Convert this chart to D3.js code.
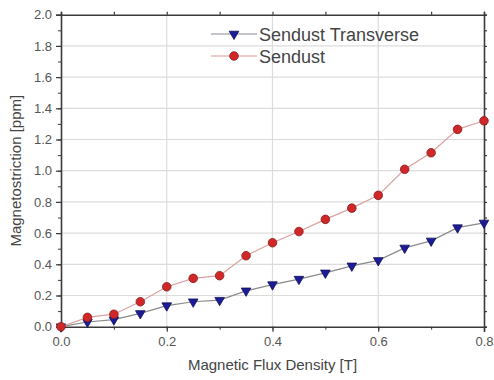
<!DOCTYPE html>
<html>
<head>
<meta charset="utf-8">
<script src="https://cdn.jsdelivr.net/npm/d3@7"></script>
<style>
  body { margin: 0; background: #fff; }
  svg { display: block; font-family: "Liberation Sans", Arial, sans-serif; }
</style>
</head>
<body>
<svg id="chart" width="494" height="380"></svg>
<script>
// Magnetostriction vs. flux density
const fluxDensity = [0, 0.05, 0.1, 0.15, 0.2, 0.25, 0.3, 0.35, 0.4, 0.45, 0.5, 0.55, 0.6, 0.65, 0.7, 0.75, 0.8];
const sendust = [0, 0.06, 0.08, 0.16, 0.256, 0.31, 0.327, 0.455, 0.538, 0.61, 0.688, 0.76, 0.842, 1.009, 1.115, 1.265, 1.32];
const sendustTransverse = [0, 0.03, 0.045, 0.085, 0.135, 0.16, 0.17, 0.23, 0.27, 0.305, 0.345, 0.39, 0.425, 0.505, 0.55, 0.635, 0.665];
const xTicks = [0, 0.2, 0.4, 0.6, 0.8];
const yTicks = [0, 0.2, 0.4, 0.6, 0.8, 1.0, 1.2, 1.4, 1.6, 1.8, 2.0];
const seriesNames = ["Sendust Transverse", "Sendust"];

const svg = d3.select("#chart");
const m = { left: 61, right: 484, top: 14.7, bottom: 326.7 };

const x = d3.scaleLinear().domain([0, 0.8]).range([m.left, m.right]);
const y = d3.scaleLinear().domain([0, 2.0]).range([m.bottom, m.top]);

const axisColor = "#3a3a3a";
const textColor = "#555";

// grid
const grid = svg.append("g");
grid.selectAll("line.gx").data(xTicks.slice(1, -1)).join("line")
  .attr("x1", d => x(d)).attr("x2", d => x(d))
  .attr("y1", m.top).attr("y2", m.bottom)
  .attr("stroke", "#dcdcdc").attr("stroke-width", 1.2);
grid.selectAll("line.gy").data(yTicks.slice(1, -1)).join("line")
  .attr("y1", d => y(d)).attr("y2", d => y(d))
  .attr("x1", m.left).attr("x2", m.right)
  .attr("stroke", "#dcdcdc").attr("stroke-width", 1.2);

// axes (ticks on all four sides, outward)
const xMinor = d3.range(0, 0.8001, 0.1);
const yMinor = d3.range(0, 2.0001, 0.1);

function styleAxis(g) {
  g.selectAll(".domain").attr("stroke", axisColor).attr("stroke-width", 1.6);
  g.selectAll(".tick line").attr("stroke", axisColor).attr("stroke-width", 1.2);
  g.selectAll(".tick text").attr("fill", textColor).attr("font-size", 13);
}

const bottomAxis = svg.append("g").attr("transform", `translate(0,${m.bottom})`)
  .call(d3.axisBottom(x).tickValues(xTicks).tickFormat(d3.format(".1f")).tickSizeOuter(0).tickSize(5).tickPadding(5));
styleAxis(bottomAxis);
svg.append("g").attr("transform", `translate(0,${m.bottom})`)
  .call(d3.axisBottom(x).tickValues(xMinor).tickFormat("").tickSizeOuter(0).tickSize(3))
  .call(g => { g.select(".domain").remove(); g.selectAll("line").attr("stroke", axisColor); });

const topAxis = svg.append("g").attr("transform", `translate(0,${m.top})`)
  .call(d3.axisTop(x).tickValues(xMinor).tickFormat("").tickSizeOuter(0).tickSize(3));
styleAxis(topAxis);

const leftAxis = svg.append("g").attr("transform", `translate(${m.left},0)`)
  .call(d3.axisLeft(y).tickValues(yTicks).tickFormat(d3.format(".1f")).tickSizeOuter(0).tickSize(5).tickPadding(4));
styleAxis(leftAxis);
svg.append("g").attr("transform", `translate(${m.left},0)`)
  .call(d3.axisLeft(y).tickValues(yMinor).tickFormat("").tickSizeOuter(0).tickSize(3))
  .call(g => { g.select(".domain").remove(); g.selectAll("line").attr("stroke", axisColor); });

const rightAxis = svg.append("g").attr("transform", `translate(${m.right},0)`)
  .call(d3.axisRight(y).tickValues(yMinor).tickFormat("").tickSizeOuter(0).tickSize(3));
styleAxis(rightAxis);

// axis titles
svg.append("text").attr("x", (m.left + m.right) / 2).attr("y", 370)
  .attr("text-anchor", "middle").attr("font-size", 15).attr("fill", "#444")
  .text("Magnetic Flux Density [T]");
svg.append("text").attr("transform", `translate(21,${(m.top + m.bottom) / 2}) rotate(-90)`)
  .attr("text-anchor", "middle").attr("font-size", 15).attr("fill", "#444")
  .text("Magnetostriction [ppm]");

// series
const line = d3.line().x((d, i) => x(fluxDensity[i])).y(d => y(d));
const tri = d3.symbol().type(d3.symbolTriangle).size(40);

function drawSeries(vals, lineColor, drawMarker) {
  svg.append("path").datum(vals).attr("d", line)
    .attr("fill", "none").attr("stroke", lineColor).attr("stroke-width", 1.2);
  const g = svg.append("g");
  vals.forEach((v, i) => drawMarker(g, x(fluxDensity[i]), y(v)));
}

function triangleMarker(g, cx, cy) {
  g.append("path").attr("d", tri)
    .attr("transform", `translate(${cx},${cy}) rotate(180)`)
    .attr("fill", "#1c1c96").attr("stroke", "#10105a").attr("stroke-width", 0.8);
}
function circleMarker(g, cx, cy) {
  g.append("circle").attr("cx", cx).attr("cy", cy).attr("r", 4.3)
    .attr("fill", "#d02828").attr("stroke", "#8a1a1a").attr("stroke-width", 0.8);
}

drawSeries(sendustTransverse, "#8a8a8a", triangleMarker);
drawSeries(sendust, "#dba0a0", circleMarker);

// legend
const legend = svg.append("g");
const legendRows = [
  { name: seriesNames[0], y: 34, color: "#8a8a9a", marker: triangleMarker },
  { name: seriesNames[1], y: 56, color: "#d89a9a", marker: circleMarker }
];
legendRows.forEach(r => {
  legend.append("line").attr("x1", 211).attr("x2", 257).attr("y1", r.y).attr("y2", r.y)
    .attr("stroke", r.color).attr("stroke-width", 1.2);
  r.marker(legend, 234, r.y);
  legend.append("text").attr("x", 259).attr("y", r.y + 6.5)
    .attr("font-size", 18).attr("fill", "#444").text(r.name);
});
</script>
</body>
</html>
